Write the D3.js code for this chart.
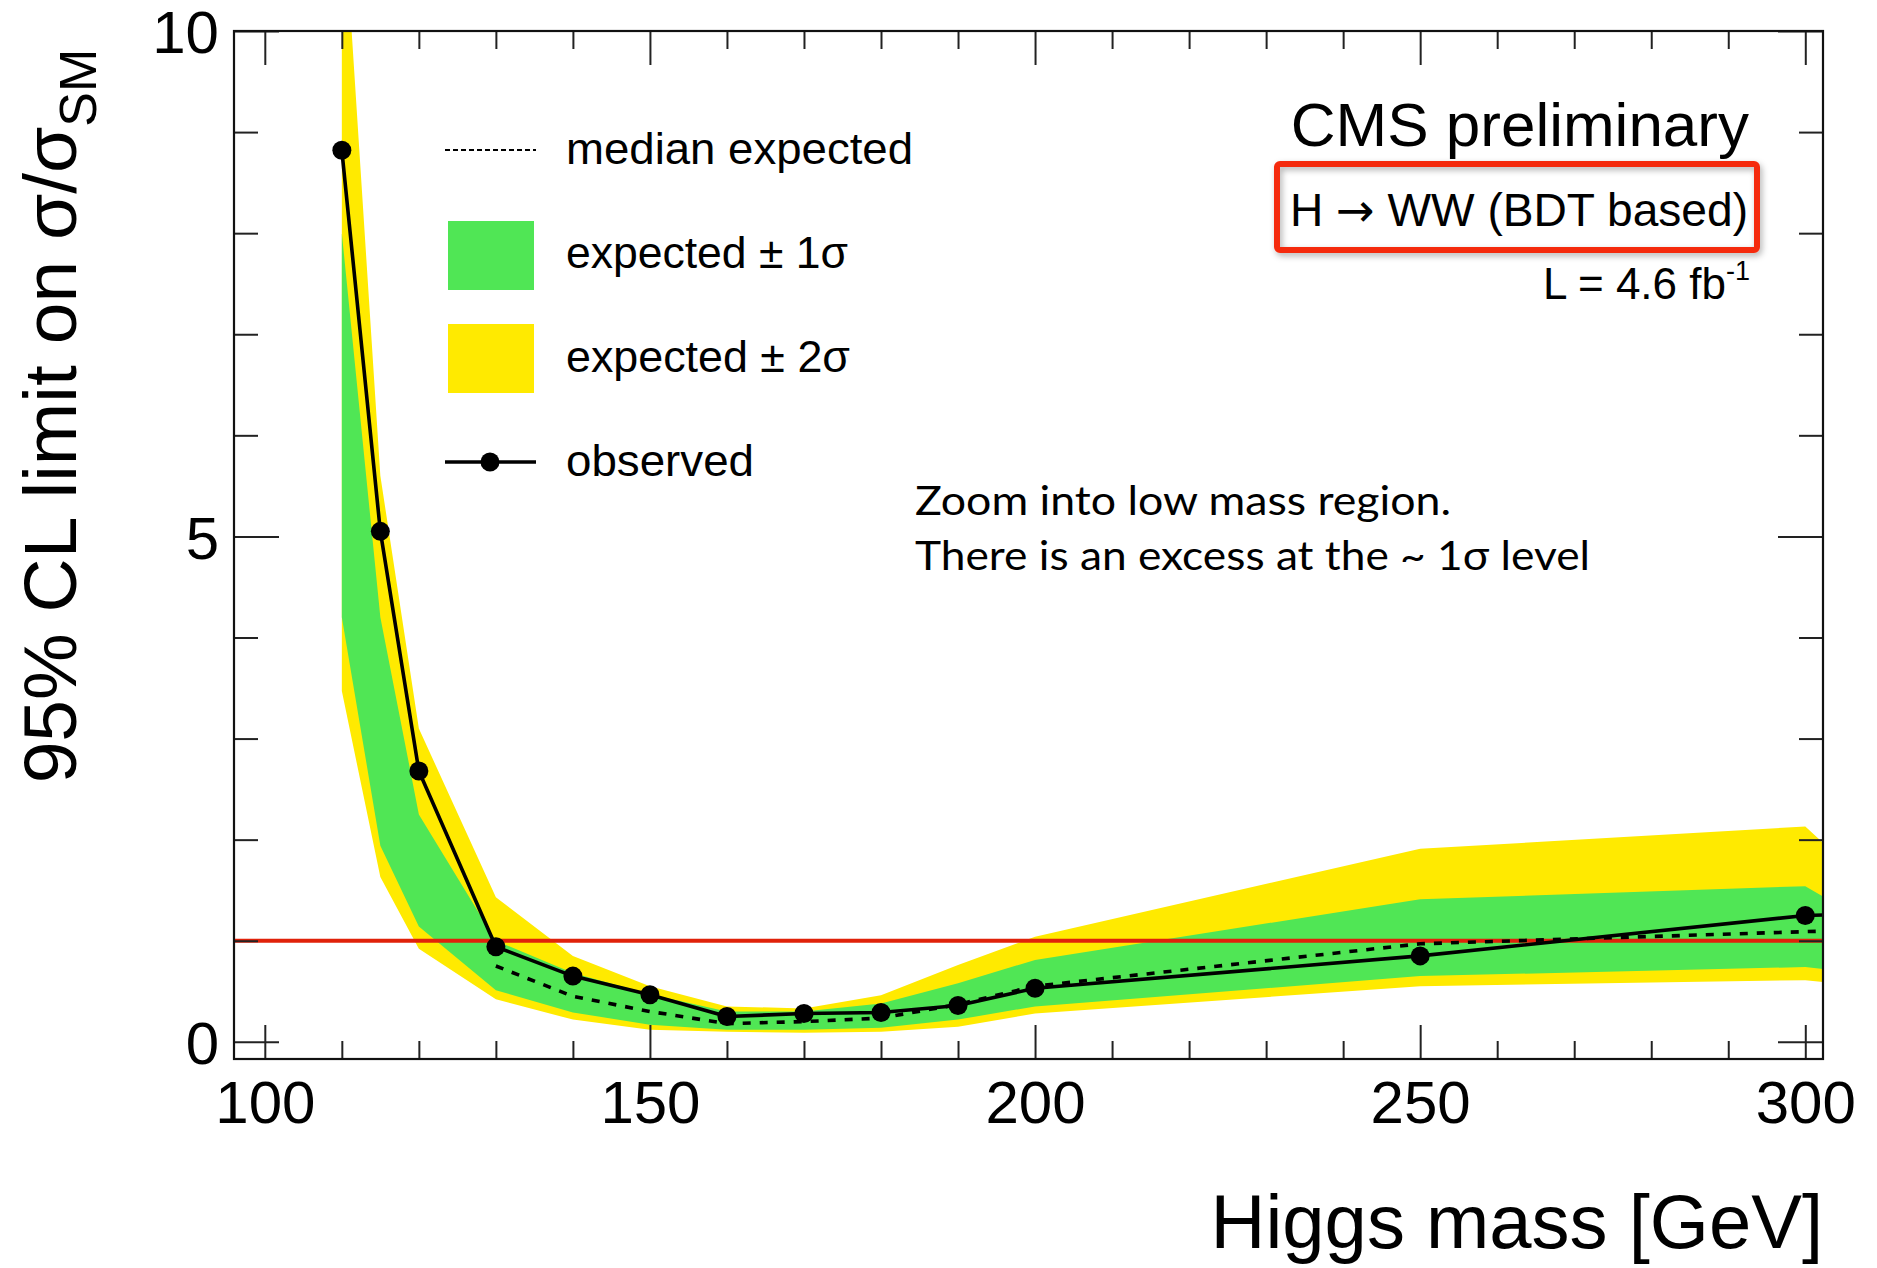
<!DOCTYPE html>
<html>
<head>
<meta charset="utf-8">
<script src="https://cdn.jsdelivr.net/npm/d3@7"></script>
<style>
  body { margin: 0; background: #fff; }
  svg { display: block; }
  text { font-family: "Liberation Sans", Arial, Helvetica, sans-serif; fill: #000; }
</style>
</head>
<body>
<div class="graph"></div>
<script>
// data (last point sits just past the frame and gets clipped)
var mass     = [110, 115, 120, 130, 140, 150, 160, 170, 180, 190, 200, 250, 300, 305];
var observed = [8.82, 5.05, 2.68, 0.94, 0.65, 0.465, 0.25, 0.28, 0.29, 0.36, 0.53, 0.85, 1.25, 1.26];
var band2Lo  = [3.47, 1.63, 0.92, 0.42, 0.22, 0.12, 0.10, 0.09, 0.10, 0.15, 0.28, 0.55, 0.61, 0.57];
var band1Lo  = [4.20, 1.94, 1.14, 0.51, 0.29, 0.17, 0.12, 0.12, 0.14, 0.22, 0.35, 0.65, 0.74, 0.70];
var band1Hi  = [8.00, 4.20, 2.25, 1.00, 0.68, 0.47, 0.30, 0.30, 0.38, 0.58, 0.81, 1.41, 1.54, 1.32];
var band2Hi  = [11.5, 5.60, 3.10, 1.43, 0.85, 0.55, 0.35, 0.33, 0.46, 0.76, 1.04, 1.91, 2.13, 1.78];

var medianMass = [130, 140, 150, 160, 170, 180, 190, 200, 250, 300, 305];
var median     = [0.75, 0.45, 0.30, 0.18, 0.20, 0.235, 0.37, 0.55, 0.97, 1.09, 1.10];

var xMajor = [100, 150, 200, 250, 300];
var xMinor = [110, 120, 130, 140, 160, 170, 180, 190, 210, 220, 230, 240, 260, 270, 280, 290];
var yMajor = [0, 5, 10];
var yMinor = [1, 2, 3, 4, 6, 7, 8, 9];
var smLine = 1;

// size and margin
var basewidth = 1877;
var baseheight = 1268;
var margin = {top: 31, right: 54, bottom: 209, left: 234},
    width = basewidth - margin.left - margin.right,
    height = baseheight - margin.top - margin.bottom;

var svg = d3.select('.graph')
    .append('svg')
    .attr('width', basewidth)
    .attr('height', baseheight);

svg.append('rect').attr('width', basewidth).attr('height', baseheight).attr('fill', '#fff');

var defs = svg.append('defs');
defs.append('clipPath').attr('id', 'frame-clip')
    .append('rect').attr('width', width).attr('height', height);
var shadow = defs.append('filter').attr('id', 'shadow')
    .attr('x', '-10%').attr('y', '-20%').attr('width', '120%').attr('height', '150%');
shadow.append('feDropShadow')
    .attr('dx', 2).attr('dy', 3).attr('stdDeviation', 3)
    .attr('flood-color', '#000').attr('flood-opacity', 0.3);

var canvas = svg.append('g')
    .attr('transform', 'translate(' + margin.left + ',' + margin.top + ')');

var x = d3.scaleLinear().domain([96, 302.3]).range([0, width]);
var y = d3.scaleLinear().domain([-0.17, 10]).range([height, 0]);

var rows = mass.map(function(m, i) {
    return {m: m, obs: observed[i], lo2: band2Lo[i], lo1: band1Lo[i], hi1: band1Hi[i], hi2: band2Hi[i]};
});
var medRows = medianMass.map(function(m, i) { return {m: m, v: median[i]}; });

var plot = canvas.append('g').attr('clip-path', 'url(#frame-clip)');

// bands
plot.append('path')
    .datum(rows)
    .attr('fill', '#ffea00')
    .attr('d', d3.area().x(function(d) { return x(d.m); })
        .y0(function(d) { return y(d.lo2); })
        .y1(function(d) { return y(d.hi2); }));

plot.append('path')
    .datum(rows)
    .attr('fill', '#50e655')
    .attr('d', d3.area().x(function(d) { return x(d.m); })
        .y0(function(d) { return y(d.lo1); })
        .y1(function(d) { return y(d.hi1); }));

// sigma/sigma_SM = 1
plot.append('line')
    .attr('x1', 0).attr('x2', width)
    .attr('y1', y(smLine)).attr('y2', y(smLine))
    .attr('stroke', '#e0220a')
    .attr('stroke-width', 4);

// median expected
plot.append('path')
    .datum(medRows)
    .attr('fill', 'none')
    .attr('stroke', '#000')
    .attr('stroke-width', 3.6)
    .attr('stroke-dasharray', '8 9')
    .attr('d', d3.line().x(function(d) { return x(d.m); }).y(function(d) { return y(d.v); }));

// observed
plot.append('path')
    .datum(rows)
    .attr('fill', 'none')
    .attr('stroke', '#000')
    .attr('stroke-width', 3.6)
    .attr('d', d3.line().x(function(d) { return x(d.m); }).y(function(d) { return y(d.obs); }));

plot.selectAll('circle.obs')
    .data(rows)
    .enter().append('circle')
    .attr('class', 'obs')
    .attr('cx', function(d) { return x(d.m); })
    .attr('cy', function(d) { return y(d.obs); })
    .attr('r', 9.5)
    .attr('fill', '#000');

// axes, ROOT style ticks pointing inwards on all four sides
function styleAxis(g) {
    g.select('.domain').remove();
    g.selectAll('.tick line').attr('stroke', '#222').attr('stroke-width', 2);
    g.selectAll('.tick text')
        .style('font-family', '"Liberation Sans", Arial, sans-serif')
        .style('font-size', '60px')
        .attr('fill', '#000');
}

canvas.append('g')
    .attr('transform', 'translate(0,' + height + ')')
    .call(d3.axisBottom(x).tickValues(xMajor).tickSize(-34).tickPadding(21).tickFormat(d3.format('d')))
    .call(styleAxis);
canvas.append('g')
    .attr('transform', 'translate(0,' + height + ')')
    .call(d3.axisBottom(x).tickValues(xMinor).tickSize(-18).tickFormat(''))
    .call(styleAxis);
canvas.append('g')
    .call(d3.axisTop(x).tickValues(xMajor).tickSize(-34).tickFormat(''))
    .call(styleAxis);
canvas.append('g')
    .call(d3.axisTop(x).tickValues(xMinor).tickSize(-18).tickFormat(''))
    .call(styleAxis);

canvas.append('g')
    .call(d3.axisLeft(y).tickValues(yMajor).tickSize(-45).tickPadding(15).tickFormat(d3.format('d')))
    .call(styleAxis)
    .selectAll('.tick text').attr('dy', '0.36em');
canvas.append('g')
    .call(d3.axisLeft(y).tickValues(yMinor).tickSize(-24).tickFormat(''))
    .call(styleAxis);
canvas.append('g')
    .attr('transform', 'translate(' + width + ',0)')
    .call(d3.axisRight(y).tickValues(yMajor).tickSize(-45).tickFormat(''))
    .call(styleAxis);
canvas.append('g')
    .attr('transform', 'translate(' + width + ',0)')
    .call(d3.axisRight(y).tickValues(yMinor).tickSize(-24).tickFormat(''))
    .call(styleAxis);

// frame
canvas.append('rect')
    .attr('width', width).attr('height', height)
    .attr('fill', 'none')
    .attr('stroke', '#111')
    .attr('stroke-width', 2.2);

// axis titles
svg.append('text')
    .attr('x', margin.left + width)
    .attr('y', 1248)
    .attr('text-anchor', 'end')
    .style('font-size', '76px')
    .text('Higgs mass [GeV]');

var ytitle = svg.append('text')
    .attr('transform', 'translate(76,416) rotate(-90)')
    .attr('text-anchor', 'middle')
    .style('font-size', '75px');
ytitle.append('tspan').text('95% CL limit on \u03c3/\u03c3');
ytitle.append('tspan').attr('dy', 20).style('font-size', '52px').text('SM');

// legend
var lx0 = 445, lx1 = 536, ltext = 566;
svg.append('line')
    .attr('x1', lx0).attr('x2', lx1).attr('y1', 150).attr('y2', 150)
    .attr('stroke', '#000').attr('stroke-width', 1.8).attr('stroke-dasharray', '5 3');
svg.append('rect').attr('x', 448).attr('y', 221).attr('width', 86).attr('height', 69).attr('fill', '#50e655');
svg.append('rect').attr('x', 448).attr('y', 324).attr('width', 86).attr('height', 69).attr('fill', '#ffea00');
svg.append('line')
    .attr('x1', lx0).attr('x2', lx1).attr('y1', 462).attr('y2', 462)
    .attr('stroke', '#000').attr('stroke-width', 3.6);
svg.append('circle').attr('cx', 490).attr('cy', 462).attr('r', 9.5).attr('fill', '#000');

var legendLabels = ['median expected', 'expected \u00b1 1\u03c3', 'expected \u00b1 2\u03c3', 'observed'];
var legendBase = [164, 268, 372, 476];
var legendLen = [347, 282, 284, 188];
svg.selectAll('text.leg')
    .data(legendLabels)
    .enter().append('text')
    .attr('class', 'leg')
    .attr('x', ltext)
    .attr('y', function(d, i) { return legendBase[i]; })
    .attr('textLength', function(d, i) { return legendLen[i]; })
    .attr('lengthAdjust', 'spacingAndGlyphs')
    .style('font-size', '45px')
    .text(function(d) { return d; });

// CMS labels
svg.append('text')
    .attr('x', 1749).attr('y', 146)
    .attr('text-anchor', 'end')
    .style('font-size', '62px')
    .text('CMS preliminary');

svg.append('rect')
    .attr('x', 1277).attr('y', 164).attr('width', 480).attr('height', 86)
    .attr('rx', 3)
    .attr('fill', 'none')
    .attr('stroke', '#f52a0a')
    .attr('stroke-width', 6)
    .attr('filter', 'url(#shadow)');

var chan = svg.append('text')
    .attr('x', 1290).attr('y', 226)
    .attr('textLength', 458).attr('lengthAdjust', 'spacingAndGlyphs')
    .style('font-size', '46px');
chan.append('tspan').text('H ');
chan.append('tspan').style('font-family', '"DejaVu Sans", sans-serif').text('\u2192');
chan.append('tspan').text(' WW (BDT based)');

var lumi = svg.append('text')
    .attr('x', 1750).attr('y', 299)
    .attr('text-anchor', 'end')
    .style('font-size', '44px');
lumi.append('tspan').text('L = 4.6 fb');
lumi.append('tspan').attr('dy', -19).style('font-size', '27px').text('-1');

// annotation
var note = svg.append('g');
note.append('text')
    .attr('x', 915).attr('y', 515)
    .attr('textLength', 536).attr('lengthAdjust', 'spacingAndGlyphs')
    .style('font-family', 'Lato, "Open Sans", sans-serif')
    .style('font-size', '41px')
    .text('Zoom into low mass region.');
note.append('text')
    .attr('x', 915).attr('y', 570)
    .attr('textLength', 675).attr('lengthAdjust', 'spacingAndGlyphs')
    .style('font-family', 'Lato, "Open Sans", sans-serif')
    .style('font-size', '41px')
    .text('There is an excess at the ~ 1\u03c3 level');
</script>
</body>
</html>
